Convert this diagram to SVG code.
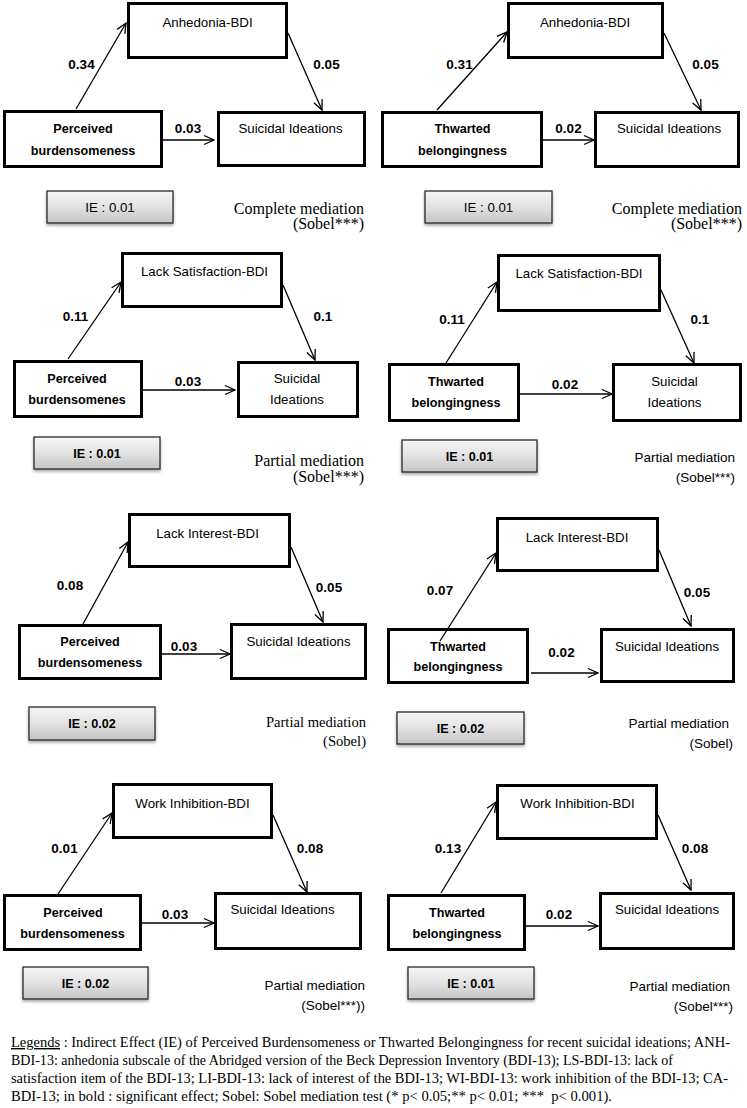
<svg xmlns="http://www.w3.org/2000/svg" width="747" height="1108" viewBox="0 0 747 1108">
<style>
.box{fill:#fff;stroke:#000;stroke-width:3}
.ie{fill:url(#g);stroke:#2a2a2a;stroke-width:1.3;filter:url(#sh)}
.t{font-family:"Liberation Sans",Arial,sans-serif;font-size:13.3px;fill:#000;text-anchor:middle}
.b{font-family:"Liberation Sans",Arial,sans-serif;font-size:12.6px;font-weight:bold;fill:#000;text-anchor:middle}
.n{font-family:"Liberation Sans",Arial,sans-serif;font-size:13.5px;font-weight:bold;fill:#000;text-anchor:middle}
.s{font-family:"Liberation Serif","Times New Roman",serif;font-size:16px;fill:#000;text-anchor:end}
.c{font-family:"Liberation Sans",Arial,sans-serif;font-size:13.5px;fill:#000;text-anchor:end}
.lg{font-family:"Liberation Serif","Times New Roman",serif;font-size:14px;fill:#000}
.a{stroke:#000;stroke-width:1.3;fill:none;marker-end:url(#ah)}
</style>
<defs>
<linearGradient id="g" x1="0" y1="0" x2="0" y2="1">
<stop offset="0" stop-color="#f6f6f6"/>
<stop offset="0.5" stop-color="#e2e2e2"/>
<stop offset="1" stop-color="#c4c4c4"/>
</linearGradient>
<filter id="sh" x="-10%" y="-20%" width="120%" height="160%">
<feDropShadow dx="0" dy="2" stdDeviation="1.5" flood-color="#000" flood-opacity="0.35"/>
</filter>
<marker id="ah" viewBox="0 0 12 12" refX="11" refY="6" markerWidth="12" markerHeight="12" orient="auto" markerUnits="userSpaceOnUse">
<path d="M1,1.5 L11,6 L1,10.5" fill="none" stroke="#000" stroke-width="1.3"/>
</marker>
</defs>

<!-- Panel 1 -->
<g id="p1-med"><rect class="box" x="128.5" y="3.5" width="158" height="54"/><text class="t" x="207.5" y="27">Anhedonia-BDI</text></g>
<g id="p1-pred"><rect class="box" x="4.5" y="111.5" width="157" height="55"/><text class="b" x="83" y="133">Perceived</text><text class="b" x="83" y="155">burdensomeness</text></g>
<g id="p1-out"><rect class="box" x="218.5" y="112.5" width="146" height="53"/><text class="t" x="290.5" y="133">Suicidal Ideations</text></g>
<g id="p1-labels"><text class="n" x="81.5" y="69">0.34</text><text class="n" x="326.5" y="69">0.05</text><text class="n" x="188" y="133">0.03</text></g>
<g id="p1-ie"><rect class="ie" x="47" y="191" width="126" height="32"/><text class="t" x="110" y="212">IE : 0.01</text></g>
<g id="p1-note"><text class="s" x="364" y="214">Complete mediation</text><text class="s" x="364" y="229">(Sobel***)</text></g>

<!-- Panel 2 -->
<g id="p2-med"><rect class="box" x="508.5" y="3.5" width="154" height="54"/><text class="t" x="585" y="27">Anhedonia-BDI</text></g>
<g id="p2-pred"><rect class="box" x="382.5" y="112.5" width="159" height="54"/><text class="b" x="462.5" y="133">Thwarted</text><text class="b" x="462.5" y="155">belongingness</text></g>
<g id="p2-out"><rect class="box" x="595.5" y="112.5" width="143" height="54"/><text class="t" x="669" y="133">Suicidal Ideations</text></g>
<g id="p2-labels"><text class="n" x="459.5" y="69">0.31</text><text class="n" x="705.5" y="69">0.05</text><text class="n" x="568.5" y="133">0.02</text></g>
<g id="p2-ie"><rect class="ie" x="425" y="191" width="127" height="32"/><text class="t" x="488.5" y="212">IE : 0.01</text></g>
<g id="p2-note"><text class="s" x="742" y="214">Complete mediation</text><text class="s" x="742" y="229">(Sobel***)</text></g>

<!-- Panel 3 -->
<g id="p3-med"><rect class="box" x="122.5" y="253.5" width="159" height="53"/><text class="t" x="204.5" y="276">Lack Satisfaction-BDI</text></g>
<g id="p3-pred"><rect class="box" x="14.5" y="361.5" width="127" height="55"/><text class="b" x="77" y="383">Perceived</text><text class="b" x="77" y="404">burdensomenes</text></g>
<g id="p3-out"><rect class="box" x="238.5" y="362.5" width="119" height="54"/><text class="t" x="297" y="383">Suicidal</text><text class="t" x="297" y="404">Ideations</text></g>
<g id="p3-labels"><text class="n" x="75.5" y="321">0.11</text><text class="n" x="323" y="321">0.1</text><text class="n" x="188" y="386">0.03</text></g>
<g id="p3-ie"><rect class="ie" x="34" y="437" width="126" height="32"/><text class="b" x="97" y="458">IE : 0.01</text></g>
<g id="p3-note"><text class="s" x="364" y="466">Partial mediation</text><text class="s" x="364" y="482">(Sobel***)</text></g>

<!-- Panel 4 -->
<g id="p4-med"><rect class="box" x="498.5" y="255.5" width="161" height="55"/><text class="t" x="579" y="278">Lack Satisfaction-BDI</text></g>
<g id="p4-pred"><rect class="box" x="389.5" y="364.5" width="129" height="56"/><text class="b" x="456" y="386">Thwarted</text><text class="b" x="456" y="407">belongingness</text></g>
<g id="p4-out"><rect class="box" x="613.5" y="364.5" width="127" height="56"/><text class="t" x="674.5" y="386">Suicidal</text><text class="t" x="674.5" y="407">Ideations</text></g>
<g id="p4-labels"><text class="n" x="452" y="324">0.11</text><text class="n" x="700" y="324">0.1</text><text class="n" x="565" y="389">0.02</text></g>
<g id="p4-ie"><rect class="ie" x="402" y="440" width="135" height="32"/><text class="b" x="469.5" y="461">IE : 0.01</text></g>
<g id="p4-note"><text class="c" x="735" y="462">Partial mediation</text><text class="c" x="735" y="482">(Sobel***)</text></g>

<!-- Panel 5 -->
<g id="p5-med"><rect class="box" x="129.5" y="514.5" width="160" height="52"/><text class="t" x="207.5" y="538">Lack Interest-BDI</text></g>
<g id="p5-pred"><rect class="box" x="19.5" y="625.5" width="141" height="53"/><text class="b" x="90" y="646">Perceived</text><text class="b" x="90" y="667">burdensomeness</text></g>
<g id="p5-out"><rect class="box" x="231.5" y="624.5" width="134" height="54"/><text class="t" x="298.5" y="646">Suicidal Ideations</text></g>
<g id="p5-labels"><text class="n" x="70" y="590">0.08</text><text class="n" x="329" y="592">0.05</text><text class="n" x="184" y="651">0.03</text></g>
<g id="p5-ie"><rect class="ie" x="29" y="707" width="126" height="33"/><text class="b" x="92" y="728">IE : 0.02</text></g>
<g id="p5-note"><text class="s" x="366" y="727" style="font-size:14.6px">Partial mediation</text><text class="s" x="366" y="746" style="font-size:14.6px">(Sobel)</text></g>

<!-- Panel 6 -->
<g id="p6-med"><rect class="box" x="497.5" y="518.5" width="160" height="52"/><text class="t" x="577" y="542">Lack Interest-BDI</text></g>
<g id="p6-pred"><rect class="box" x="388.5" y="629.5" width="139" height="53"/><text class="b" x="458" y="651">Thwarted</text><text class="b" x="458" y="671">belongingness</text></g>
<g id="p6-out"><rect class="box" x="601.5" y="629.5" width="132" height="52"/><text class="t" x="667" y="651">Suicidal Ideations</text></g>
<g id="p6-labels"><text class="n" x="440" y="595">0.07</text><text class="n" x="697" y="597">0.05</text><text class="n" x="561.5" y="657">0.02</text></g>
<g id="p6-ie"><rect class="ie" x="397" y="712" width="127" height="32"/><text class="b" x="460.5" y="733">IE : 0.02</text></g>
<g id="p6-note"><text class="c" x="729" y="728">Partial mediation</text><text class="c" x="733" y="748">(Sobel)</text></g>

<!-- Panel 7 -->
<g id="p7-med"><rect class="box" x="113.5" y="784.5" width="158" height="53"/><text class="t" x="192.5" y="808">Work Inhibition-BDI</text></g>
<g id="p7-pred"><rect class="box" x="4.5" y="895.5" width="136" height="54"/><text class="b" x="73" y="917">Perceived</text><text class="b" x="72.5" y="938">burdensomeness</text></g>
<g id="p7-out"><rect class="box" x="215.5" y="893.5" width="145" height="55"/><text class="t" x="282.5" y="914">Suicidal Ideations</text></g>
<g id="p7-labels"><text class="n" x="64.5" y="853">0.01</text><text class="n" x="310" y="853">0.08</text><text class="n" x="175" y="919">0.03</text></g>
<g id="p7-ie"><rect class="ie" x="23" y="967" width="125" height="32"/><text class="b" x="85.5" y="988">IE : 0.02</text></g>
<g id="p7-note"><text class="c" x="365" y="990">Partial mediation</text><text class="c" x="365" y="1010">(Sobel***))</text></g>

<!-- Panel 8 -->
<g id="p8-med"><rect class="box" x="497.5" y="785.5" width="159" height="53"/><text class="t" x="577.5" y="808">Work Inhibition-BDI</text></g>
<g id="p8-pred"><rect class="box" x="388.5" y="895.5" width="136" height="54"/><text class="b" x="457" y="917">Thwarted</text><text class="b" x="457" y="938">belongingness</text></g>
<g id="p8-out"><rect class="box" x="600.5" y="893.5" width="133" height="55"/><text class="t" x="667" y="914">Suicidal Ideations</text></g>
<g id="p8-labels"><text class="n" x="448" y="853">0.13</text><text class="n" x="695" y="853">0.08</text><text class="n" x="559" y="919">0.02</text></g>
<g id="p8-ie"><rect class="ie" x="408" y="967" width="126" height="32"/><text class="b" x="471" y="988">IE : 0.01</text></g>
<g id="p8-note"><text class="c" x="730" y="991">Partial mediation</text><text class="c" x="733" y="1011">(Sobel***)</text></g>

<g id="connectors">
<line class="a" x1="76" y1="109" x2="126" y2="23"/>
<line class="a" x1="288" y1="33" x2="322" y2="110"/>
<line class="a" x1="163" y1="140" x2="214" y2="140"/>
<line class="a" x1="437" y1="110" x2="507" y2="32"/>
<line class="a" x1="664" y1="33" x2="701" y2="110"/>
<line class="a" x1="543" y1="140" x2="594" y2="140"/>
<line class="a" x1="68" y1="359" x2="121" y2="282"/>
<line class="a" x1="283" y1="285" x2="315" y2="360"/>
<line class="a" x1="143" y1="390" x2="235" y2="390"/>
<line class="a" x1="446" y1="363" x2="497" y2="282"/>
<line class="a" x1="661" y1="290" x2="694" y2="363"/>
<line class="a" x1="520" y1="394" x2="612" y2="394"/>
<line class="a" x1="83" y1="624" x2="128" y2="542"/>
<line class="a" x1="291" y1="547" x2="323" y2="622"/>
<line class="a" x1="162" y1="654" x2="230" y2="654"/>
<line class="a" x1="440" y1="641" x2="496" y2="553"/>
<line class="a" x1="659" y1="550" x2="691" y2="626"/>
<line class="a" x1="531" y1="673" x2="598" y2="673"/>
<line class="a" x1="58" y1="894" x2="112" y2="813"/>
<line class="a" x1="273" y1="815" x2="307" y2="892"/>
<line class="a" x1="142" y1="923" x2="214" y2="923"/>
<line class="a" x1="441" y1="893" x2="496" y2="802"/>
<line class="a" x1="658" y1="815" x2="691" y2="890"/>
<line class="a" x1="526" y1="926" x2="598" y2="926"/>
</g>

<!-- Legend -->
<g id="legend">
<text class="lg" x="11" y="1047" textLength="719" lengthAdjust="spacingAndGlyphs"><tspan text-decoration="underline">Legends</tspan> : Indirect Effect (IE) of Perceived Burdensomeness or Thwarted Belongingness for recent suicidal ideations; ANH-</text>
<text class="lg" x="11" y="1065" textLength="662" lengthAdjust="spacingAndGlyphs">BDI-13: anhedonia subscale of the Abridged version of the Beck Depression Inventory (BDI-13); LS-BDI-13: lack of</text>
<text class="lg" x="11" y="1083" textLength="717" lengthAdjust="spacingAndGlyphs">satisfaction item of the BDI-13; LI-BDI-13: lack of interest of the BDI-13; WI-BDI-13: work inhibition of the BDI-13; CA-</text>
<text class="lg" x="11" y="1101" textLength="601" lengthAdjust="spacingAndGlyphs" xml:space="preserve">BDI-13; in bold : significant effect; Sobel: Sobel mediation test (* p&lt; 0.05;** p&lt; 0.01; ***  p&lt; 0.001).</text>
</g>
</svg>
